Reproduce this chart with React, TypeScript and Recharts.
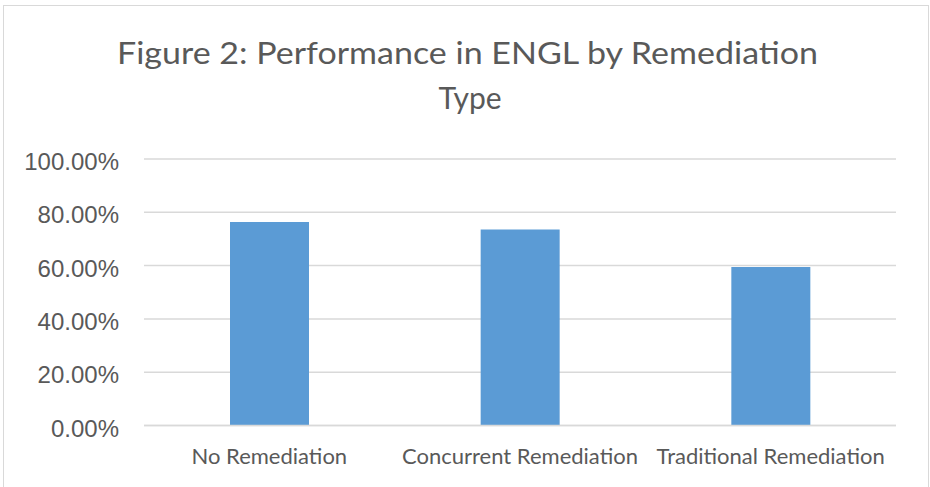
import { BarChart, Bar, XAxis, YAxis, CartesianGrid } from 'recharts';

// Share of students passing ENGL, per remediation type (percent)
const categories = ['No Remediation', 'Concurrent Remediation', 'Traditional Remediation'];
const performance = [76.4, 73.5, 59.5];
const yTicks = [0, 20, 40, 60, 80, 100];

const data = categories.map((name, i) => ({ name, value: performance[i] }));

const TEXT = '#595959';
const GRID = '#d9d9d9';

const XTick = ({ x, y, payload }: any) => (
    <text x={x} y={y} dy={38} textAnchor="middle" fill={TEXT} fontFamily="Lato, 'Open Sans', sans-serif" fontSize={22}>
        {payload.value}
    </text>
);

const YTick = ({ x, y, payload }: any) => (
    <text x={x} y={y} dy={11} textAnchor="end" fill={TEXT} fontFamily="'Liberation Sans', Arial, sans-serif" fontSize={24}>
        {Number(payload.value).toFixed(2)}%
    </text>
);

export default function App() {
    return (
        <div style={{ position: 'absolute', left: 0, top: 0, width: 930, height: 487, background: '#fff', overflow: 'hidden' }}>
            {/* chart frame */}
            <div style={{ position: 'absolute', left: 3, top: 5, width: 924, height: 500, border: `1px solid ${GRID}` }} />

            {/* title */}
            <svg width={930} height={120} style={{ position: 'absolute', left: 0, top: 0 }}>
                <text x={467.5} y={64} textAnchor="middle" fill={TEXT} fontFamily="Lato, 'Open Sans', sans-serif" fontSize={30}
                    textLength={701} lengthAdjust="spacingAndGlyphs">
                    Figure 2: Performance in ENGL by Remediation
                </text>
                <text x={470} y={109} textAnchor="middle" fill={TEXT} fontFamily="Lato, 'Open Sans', sans-serif" fontSize={30}>
                    Type
                </text>
            </svg>

            <div style={{ position: 'absolute', left: 0, top: 0 }}>
                <BarChart width={930} height={487} data={data} margin={{ top: 159, right: 34, bottom: 0, left: 0 }}>
                    <CartesianGrid vertical={false} stroke={GRID} strokeWidth={1.5} />
                    <XAxis dataKey="name" height={61.5} axisLine={{ stroke: GRID, strokeWidth: 1.5 }} tickLine={false}
                        tickSize={0} tickMargin={0} tick={<XTick />} interval={0} />
                    <YAxis width={144} domain={[0, 100]} ticks={yTicks} axisLine={false} tickLine={false}
                        tickSize={0} tickMargin={25} tick={<YTick />} />
                    <Bar dataKey="value" fill="#5b9bd5" barSize={79} isAnimationActive={false} />
                </BarChart>
            </div>
        </div>
    );
}
